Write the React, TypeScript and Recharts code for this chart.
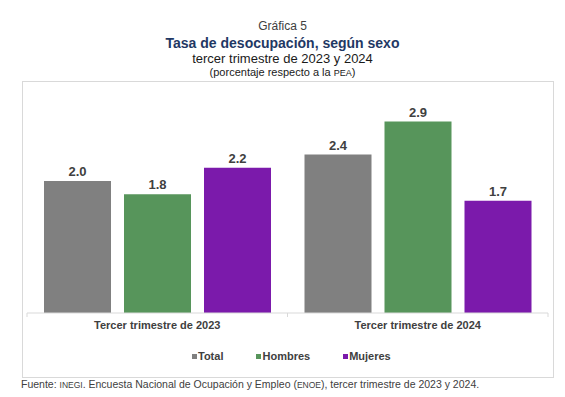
import { BarChart, Bar, XAxis, YAxis, LabelList } from "recharts";

const periods = ["Tercer trimestre de 2023", "Tercer trimestre de 2024"];
const total = [2.0, 2.4];
const hombres = [1.8, 2.9];
const mujeres = [2.2, 1.7];

const series = [
  { key: "total", name: "Total", color: "#808080" },
  { key: "hombres", name: "Hombres", color: "#57955b" },
  { key: "mujeres", name: "Mujeres", color: "#7b1aab" },
];

const data = periods.map((p, i) => ({
  period: p,
  total: total[i],
  hombres: hombres[i],
  mujeres: mujeres[i],
}));

const FONT = '"Liberation Sans", Arial, sans-serif';
const AXIS_Y = 313;
const HALF_BAND = (565 - 27 - 17) / 4;

function PeriodTick(props: any) {
  const { x, y, payload } = props;
  return (
    <g>
      <line x1={x - HALF_BAND} x2={x - HALF_BAND} y1={AXIS_Y} y2={AXIS_Y + 4} stroke="#d9d9d9" />
      <line x1={x + HALF_BAND} x2={x + HALF_BAND} y1={AXIS_Y} y2={AXIS_Y + 4} stroke="#d9d9d9" />
      <text
        x={x}
        y={y}
        dy="0.71em"
        textAnchor="middle"
        fontSize={11}
        fontWeight="bold"
        fill="#404040"
        fontFamily={FONT}
      >
        {payload.value}
      </text>
    </g>
  );
}

export default function App() {
  return (
    <div
      style={{
        position: "absolute",
        left: 0,
        top: 0,
        width: 565,
        height: 397,
        background: "#fff",
        fontFamily: FONT,
        overflow: "hidden",
      }}
    >
      <div style={{ position: "absolute", top: 19, width: 565, textAlign: "center", fontSize: 12, color: "#404040" }}>
        Gráfica 5
      </div>
      <div
        style={{
          position: "absolute",
          top: 35,
          width: 565,
          textAlign: "center",
          fontSize: 14,
          fontWeight: "bold",
          color: "#1f3864",
        }}
      >
        Tasa de desocupación, según sexo
      </div>
      <div style={{ position: "absolute", top: 51, width: 565, textAlign: "center", fontSize: 13, color: "#1a1a1a" }}>
        tercer trimestre de 2023 y 2024
      </div>
      <div style={{ position: "absolute", top: 66, width: 565, textAlign: "center", fontSize: 11, color: "#1a1a1a" }}>
        (porcentaje respecto a la <span style={{ fontSize: 9 }}>PEA</span>)
      </div>

      <div
        style={{
          position: "absolute",
          left: 22,
          top: 81,
          width: 530,
          height: 295,
          border: "1px solid #d9d9d9",
        }}
      />

      <div style={{ position: "absolute", left: 0, top: 0 }}>
        <BarChart
          width={565}
          height={397}
          data={data}
          margin={{ top: 82, right: 17, left: 27, bottom: 54 }}
          barCategoryGap={17}
          barGap={13}
        >
          <YAxis hide domain={[0, 3.5]} />
          <XAxis
            dataKey="period"
            height={30}
            axisLine={{ stroke: "#d9d9d9" }}
            tickLine={false}
            tick={<PeriodTick />}
            interval={0}
          />
          {series.map((s) => (
            <Bar key={s.key} dataKey={s.key} name={s.name} fill={s.color} isAnimationActive={false}>
              <LabelList
                dataKey={s.key}
                position="top"
                offset={5}
                fontSize={13}
                fontWeight="bold"
                fill="#404040"
                fontFamily={FONT}
                formatter={(v: any) => Number(v).toFixed(1)}
              />
            </Bar>
          ))}
        </BarChart>
      </div>

      <div
        style={{
          position: "absolute",
          left: 192,
          top: 350,
          display: "flex",
          gap: 33,
          fontSize: 11,
          fontWeight: "bold",
          color: "#404040",
        }}
      >
        {series.map((s) => (
          <div key={s.key} style={{ display: "flex", alignItems: "center" }}>
            <span style={{ width: 5, height: 5, background: s.color, marginRight: 1, display: "inline-block" }} />
            <span>{s.name}</span>
          </div>
        ))}
      </div>

      <div
        style={{
          position: "absolute",
          left: 21,
          top: 378,
          fontSize: 10.5,
          color: "#404040",
          whiteSpace: "nowrap",
        }}
      >
        {"Fuente: "}
        <span style={{ fontSize: 8.5 }}>INEGI</span>
        {". Encuesta Nacional de Ocupación y Empleo ("}
        <span style={{ fontSize: 8.5 }}>ENOE</span>
        {"), tercer trimestre de 2023 y 2024."}
      </div>
    </div>
  );
}
